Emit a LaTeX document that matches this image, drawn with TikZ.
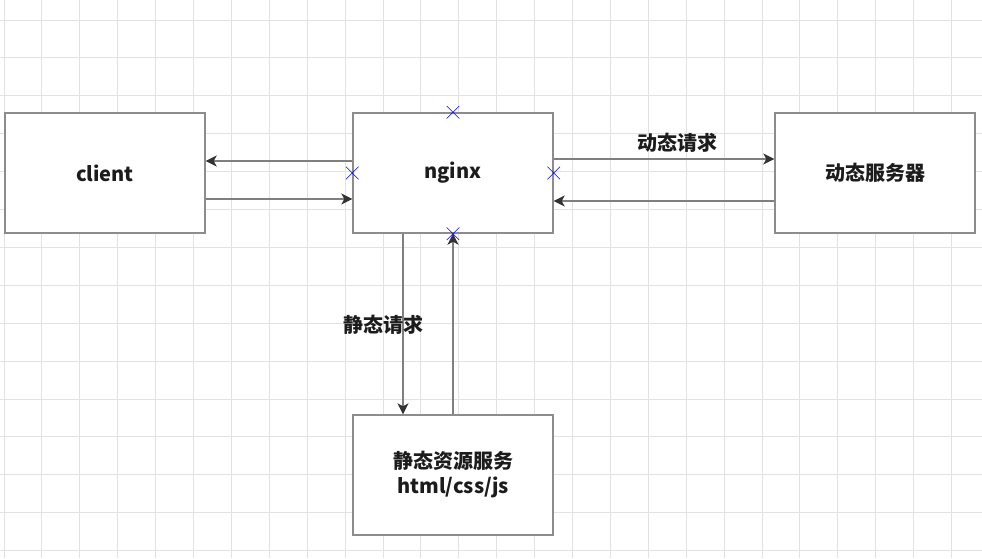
\documentclass[tikz,border=0pt]{standalone}
\usepackage{fontspec}
\setmainfont{Noto Sans CJK SC}
\usepackage{tikz}
\usetikzlibrary{arrows.meta,shapes.misc}

\definecolor{gridgray}{HTML}{E2E2E2}
\definecolor{boxgray}{HTML}{8C8C8C}
\definecolor{linegray}{HTML}{7F7F7F}
\definecolor{tipgray}{HTML}{333333}
\definecolor{txt}{HTML}{1C1C1C}

\tikzset{
  gridline/.style={gridgray,line width=1pt},
  box/.style={draw=boxgray,line width=1.4pt,fill=white,minimum width=200pt,minimum height=120pt,
    inner sep=0pt,text=txt,font=\fontsize{20}{25}\selectfont\bfseries,align=center},
  link/.style={linegray,line width=1.4pt,-{Stealth[length=11pt,width=11pt,inset=3pt,color=tipgray]}},
  lbl/.style={text=txt,font=\fontsize{20}{25}\selectfont\bfseries},
  conpoint/.style={cross out,draw=blue,line width=0.6pt,minimum size=12pt,inner sep=0pt}
}

\begin{document}
\begin{tikzpicture}[x=1pt,y=-1pt]
\fill[white] (0,0) rectangle (982,558);
\useasboundingbox (0,0) rectangle (982,558);
% grid
\foreach \i in {0,...,25} \draw[gridline] (4+37.9*\i,0) -- (4+37.9*\i,558);
\foreach \j in {0,...,14} \draw[gridline] (0,20+37.9*\j) -- (982,20+37.9*\j);

\node[box] (client) at (105,173) {client};
\node[box] (nginx) at (453,173) {nginx};
\node[box] (dyn) at (875,173) {动态服务器};
\node[box] (static) at (453,475) {静态资源服务\\html/css/js};

\draw[link] ([yshift=12pt]nginx.west) -- ([yshift=12pt]client.east);
\draw[link] ([yshift=-26pt]client.east) -- ([yshift=-26pt]nginx.west);
\draw[link] ([yshift=14pt]nginx.east) -- ([yshift=14pt]dyn.west);
\draw[link] ([yshift=-28pt]dyn.west) -- ([yshift=-28pt]nginx.east);
\draw[link] ([xshift=-50pt]nginx.south) -- ([xshift=-50pt]static.north);
\draw[link] (static.north) -- (nginx.south);

\node[lbl] (dynlbl) at (677,143) {动态请求};
\node[lbl] (staticlbl) at (383,325) {静态请求};

\node[conpoint] (xn) at (nginx.north) {};
\node[conpoint] (xs) at (nginx.south) {};
\node[conpoint] (xw) at (nginx.west) {};
\node[conpoint] (xe) at (nginx.east) {};

\end{tikzpicture}
\end{document}
